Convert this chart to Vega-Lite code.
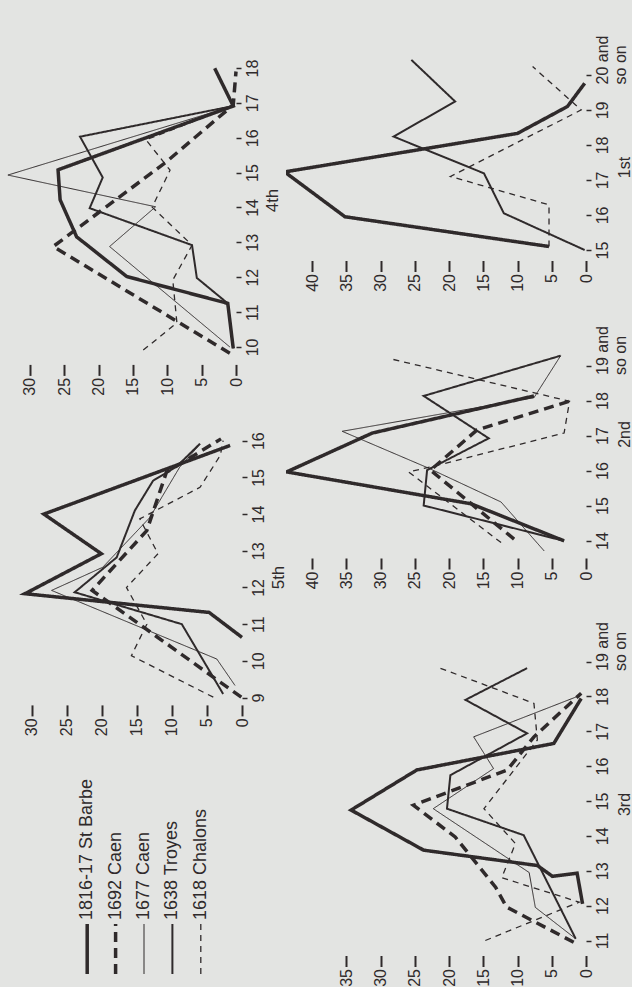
{
  "$schema": "https://vega.github.io/schema/vega-lite/v6.json",
  "background": "#e3e4e2",
  "padding": 0,
  "spacing": 0,
  "datasets": {
    "series": [
      {"series": "1816-17 St Barbe"},
      {"series": "1692 Caen"},
      {"series": "1677 Caen"},
      {"series": "1638 Troyes"},
      {"series": "1618 Chalons"}
    ],
    "lines": [
      {"panel": "4th", "series": "1816-17 St Barbe", "age": 9.96, "value": 0.4},
      {"panel": "4th", "series": "1816-17 St Barbe", "age": 11.25, "value": 1.2},
      {"panel": "4th", "series": "1816-17 St Barbe", "age": 12.02, "value": 15.9},
      {"panel": "4th", "series": "1816-17 St Barbe", "age": 13.16, "value": 23.2},
      {"panel": "4th", "series": "1816-17 St Barbe", "age": 14.22, "value": 25.6},
      {"panel": "4th", "series": "1816-17 St Barbe", "age": 15.08, "value": 25.9},
      {"panel": "4th", "series": "1816-17 St Barbe", "age": 16.91, "value": 0.4},
      {"panel": "4th", "series": "1816-17 St Barbe", "age": 17.99, "value": 3.1},
      {"panel": "4th", "series": "1692 Caen", "age": 9.82, "value": 0.9},
      {"panel": "4th", "series": "1692 Caen", "age": 12.88, "value": 26.6},
      {"panel": "4th", "series": "1692 Caen", "age": 15.3, "value": 10.2},
      {"panel": "4th", "series": "1692 Caen", "age": 16.94, "value": 0.4},
      {"panel": "4th", "series": "1692 Caen", "age": 17.9, "value": 0},
      {"panel": "4th", "series": "1677 Caen", "age": 10.0, "value": 0.9},
      {"panel": "4th", "series": "1677 Caen", "age": 12.88, "value": 18.4},
      {"panel": "4th", "series": "1677 Caen", "age": 14.02, "value": 11.7},
      {"panel": "4th", "series": "1677 Caen", "age": 14.93, "value": 33.2},
      {"panel": "4th", "series": "1677 Caen", "age": 16.91, "value": 0.4},
      {"panel": "4th", "series": "1638 Troyes", "age": 9.96, "value": 0.4},
      {"panel": "4th", "series": "1638 Troyes", "age": 11.25, "value": 1.2},
      {"panel": "4th", "series": "1638 Troyes", "age": 11.98, "value": 5.7},
      {"panel": "4th", "series": "1638 Troyes", "age": 12.92, "value": 6.4},
      {"panel": "4th", "series": "1638 Troyes", "age": 13.98, "value": 21.3},
      {"panel": "4th", "series": "1638 Troyes", "age": 14.86, "value": 19.4},
      {"panel": "4th", "series": "1638 Troyes", "age": 16.03, "value": 22.7},
      {"panel": "4th", "series": "1638 Troyes", "age": 16.91, "value": 0.4},
      {"panel": "4th", "series": "1618 Chalons", "age": 9.91, "value": 13.5},
      {"panel": "4th", "series": "1618 Chalons", "age": 10.69, "value": 8.6},
      {"panel": "4th", "series": "1618 Chalons", "age": 11.92, "value": 9.2},
      {"panel": "4th", "series": "1618 Chalons", "age": 12.92, "value": 6.4},
      {"panel": "4th", "series": "1618 Chalons", "age": 14.01, "value": 12.2},
      {"panel": "4th", "series": "1618 Chalons", "age": 15.07, "value": 9.6},
      {"panel": "4th", "series": "1618 Chalons", "age": 15.94, "value": 13.1},
      {"panel": "4th", "series": "1618 Chalons", "age": 16.91, "value": 0.4},

      {"panel": "5th", "series": "1816-17 St Barbe", "age": 10.64, "value": 0},
      {"panel": "5th", "series": "1816-17 St Barbe", "age": 11.32, "value": 4.7},
      {"panel": "5th", "series": "1816-17 St Barbe", "age": 11.83, "value": 31.0},
      {"panel": "5th", "series": "1816-17 St Barbe", "age": 12.92, "value": 20.1},
      {"panel": "5th", "series": "1816-17 St Barbe", "age": 14.0, "value": 28.3},
      {"panel": "5th", "series": "1816-17 St Barbe", "age": 15.87, "value": 1.7},
      {"panel": "5th", "series": "1692 Caen", "age": 9.01, "value": 0.1},
      {"panel": "5th", "series": "1692 Caen", "age": 11.92, "value": 21.4},
      {"panel": "5th", "series": "1692 Caen", "age": 13.55, "value": 13.6},
      {"panel": "5th", "series": "1692 Caen", "age": 15.14, "value": 10.8},
      {"panel": "5th", "series": "1692 Caen", "age": 16.05, "value": 3.0},
      {"panel": "5th", "series": "1677 Caen", "age": 9.33, "value": 1.0},
      {"panel": "5th", "series": "1677 Caen", "age": 10.05, "value": 3.6},
      {"panel": "5th", "series": "1677 Caen", "age": 11.92, "value": 27.2},
      {"panel": "5th", "series": "1677 Caen", "age": 12.55, "value": 19.9},
      {"panel": "5th", "series": "1677 Caen", "age": 13.9, "value": 13.2},
      {"panel": "5th", "series": "1677 Caen", "age": 15.28, "value": 8.9},
      {"panel": "5th", "series": "1677 Caen", "age": 15.9, "value": 6.0},
      {"panel": "5th", "series": "1638 Troyes", "age": 9.1, "value": 2.7},
      {"panel": "5th", "series": "1638 Troyes", "age": 11.0, "value": 8.6},
      {"panel": "5th", "series": "1638 Troyes", "age": 11.87, "value": 23.9},
      {"panel": "5th", "series": "1638 Troyes", "age": 12.82, "value": 17.9},
      {"panel": "5th", "series": "1638 Troyes", "age": 14.1, "value": 15.3},
      {"panel": "5th", "series": "1638 Troyes", "age": 14.91, "value": 12.7},
      {"panel": "5th", "series": "1638 Troyes", "age": 15.3, "value": 9.3},
      {"panel": "5th", "series": "1638 Troyes", "age": 15.92, "value": 6.0},
      {"panel": "5th", "series": "1618 Chalons", "age": 9.01, "value": 4.1},
      {"panel": "5th", "series": "1618 Chalons", "age": 10.14, "value": 15.8},
      {"panel": "5th", "series": "1618 Chalons", "age": 11.0, "value": 13.6},
      {"panel": "5th", "series": "1618 Chalons", "age": 12.0, "value": 16.5},
      {"panel": "5th", "series": "1618 Chalons", "age": 12.92, "value": 12.0},
      {"panel": "5th", "series": "1618 Chalons", "age": 13.87, "value": 14.6},
      {"panel": "5th", "series": "1618 Chalons", "age": 14.73, "value": 6.0},
      {"panel": "5th", "series": "1618 Chalons", "age": 15.6, "value": 3.1},
      {"panel": "5th", "series": "1618 Chalons", "age": 16.0, "value": 2.7},

      {"panel": "1st", "series": "1816-17 St Barbe", "age": 15.1, "value": 5.4},
      {"panel": "1st", "series": "1816-17 St Barbe", "age": 15.95, "value": 35.2},
      {"panel": "1st", "series": "1816-17 St Barbe", "age": 17.23, "value": 44.0},
      {"panel": "1st", "series": "1816-17 St Barbe", "age": 18.33, "value": 10.0},
      {"panel": "1st", "series": "1816-17 St Barbe", "age": 19.1, "value": 2.7},
      {"panel": "1st", "series": "1816-17 St Barbe", "age": 19.76, "value": 0.2},
      {"panel": "1st", "series": "1638 Troyes", "age": 15.0, "value": 0.2},
      {"panel": "1st", "series": "1638 Troyes", "age": 16.05, "value": 12.0},
      {"panel": "1st", "series": "1638 Troyes", "age": 17.19, "value": 14.9},
      {"panel": "1st", "series": "1638 Troyes", "age": 18.24, "value": 28.1},
      {"panel": "1st", "series": "1638 Troyes", "age": 19.24, "value": 19.1},
      {"panel": "1st", "series": "1638 Troyes", "age": 20.43, "value": 25.5},
      {"panel": "1st", "series": "1618 Chalons", "age": 15.1, "value": 5.4},
      {"panel": "1st", "series": "1618 Chalons", "age": 16.29, "value": 5.4},
      {"panel": "1st", "series": "1618 Chalons", "age": 17.1, "value": 19.8},
      {"panel": "1st", "series": "1618 Chalons", "age": 19.0, "value": 0.7},
      {"panel": "1st", "series": "1618 Chalons", "age": 20.24, "value": 7.8},

      {"panel": "2nd", "series": "1816-17 St Barbe", "age": 13.99, "value": 3.2},
      {"panel": "2nd", "series": "1816-17 St Barbe", "age": 15.05, "value": 16.8},
      {"panel": "2nd", "series": "1816-17 St Barbe", "age": 15.96, "value": 43.7},
      {"panel": "2nd", "series": "1816-17 St Barbe", "age": 17.07, "value": 31.2},
      {"panel": "2nd", "series": "1816-17 St Barbe", "age": 18.13, "value": 7.6},
      {"panel": "2nd", "series": "1677 Caen", "age": 13.7, "value": 6.1},
      {"panel": "2nd", "series": "1677 Caen", "age": 15.1, "value": 12.4},
      {"panel": "2nd", "series": "1677 Caen", "age": 16.06, "value": 22.9},
      {"panel": "2nd", "series": "1677 Caen", "age": 17.12, "value": 35.6},
      {"panel": "2nd", "series": "1677 Caen", "age": 18.08, "value": 7.6},
      {"panel": "2nd", "series": "1677 Caen", "age": 19.28, "value": 3.7},
      {"panel": "2nd", "series": "1638 Troyes", "age": 13.99, "value": 3.2},
      {"panel": "2nd", "series": "1638 Troyes", "age": 15.0, "value": 23.7},
      {"panel": "2nd", "series": "1638 Troyes", "age": 16.01, "value": 23.2},
      {"panel": "2nd", "series": "1638 Troyes", "age": 16.92, "value": 14.2},
      {"panel": "2nd", "series": "1638 Troyes", "age": 18.13, "value": 23.7},
      {"panel": "2nd", "series": "1638 Troyes", "age": 19.28, "value": 3.7},
      {"panel": "2nd", "series": "1692 Caen", "age": 14.04, "value": 10.5},
      {"panel": "2nd", "series": "1692 Caen", "age": 16.01, "value": 22.7},
      {"panel": "2nd", "series": "1692 Caen", "age": 17.16, "value": 15.9},
      {"panel": "2nd", "series": "1692 Caen", "age": 17.98, "value": 2.4},
      {"panel": "2nd", "series": "1618 Chalons", "age": 13.94, "value": 12.4},
      {"panel": "2nd", "series": "1618 Chalons", "age": 15.96, "value": 25.9},
      {"panel": "2nd", "series": "1618 Chalons", "age": 16.15, "value": 21.7},
      {"panel": "2nd", "series": "1618 Chalons", "age": 17.07, "value": 3.2},
      {"panel": "2nd", "series": "1618 Chalons", "age": 17.98, "value": 2.4},
      {"panel": "2nd", "series": "1618 Chalons", "age": 19.18, "value": 28.3},

      {"panel": "3rd", "series": "1816-17 St Barbe", "age": 12.05, "value": 0.5},
      {"panel": "3rd", "series": "1816-17 St Barbe", "age": 12.93, "value": 1.3},
      {"panel": "3rd", "series": "1816-17 St Barbe", "age": 12.84, "value": 4.9},
      {"panel": "3rd", "series": "1816-17 St Barbe", "age": 13.15, "value": 7.1},
      {"panel": "3rd", "series": "1816-17 St Barbe", "age": 13.59, "value": 23.7},
      {"panel": "3rd", "series": "1816-17 St Barbe", "age": 14.74, "value": 34.3},
      {"panel": "3rd", "series": "1816-17 St Barbe", "age": 15.89, "value": 24.7},
      {"panel": "3rd", "series": "1816-17 St Barbe", "age": 16.65, "value": 4.7},
      {"panel": "3rd", "series": "1816-17 St Barbe", "age": 17.94, "value": 0.7},
      {"panel": "3rd", "series": "1638 Troyes", "age": 11.05, "value": 1.5},
      {"panel": "3rd", "series": "1638 Troyes", "age": 14.02, "value": 9.1},
      {"panel": "3rd", "series": "1638 Troyes", "age": 14.78, "value": 20.3},
      {"panel": "3rd", "series": "1638 Troyes", "age": 15.74, "value": 19.8},
      {"panel": "3rd", "series": "1638 Troyes", "age": 16.94, "value": 8.6},
      {"panel": "3rd", "series": "1638 Troyes", "age": 17.9, "value": 17.6},
      {"panel": "3rd", "series": "1638 Troyes", "age": 18.81, "value": 8.6},
      {"panel": "3rd", "series": "1677 Caen", "age": 11.05, "value": 1.5},
      {"panel": "3rd", "series": "1677 Caen", "age": 11.95, "value": 7.4},
      {"panel": "3rd", "series": "1677 Caen", "age": 12.95, "value": 8.3},
      {"panel": "3rd", "series": "1677 Caen", "age": 14.78, "value": 22.3},
      {"panel": "3rd", "series": "1677 Caen", "age": 15.93, "value": 13.5},
      {"panel": "3rd", "series": "1677 Caen", "age": 16.84, "value": 16.4},
      {"panel": "3rd", "series": "1677 Caen", "age": 18.04, "value": 0.7},
      {"panel": "3rd", "series": "1692 Caen", "age": 10.95, "value": 1.8},
      {"panel": "3rd", "series": "1692 Caen", "age": 11.96, "value": 11.6},
      {"panel": "3rd", "series": "1692 Caen", "age": 12.53, "value": 13.2},
      {"panel": "3rd", "series": "1692 Caen", "age": 13.97, "value": 19.1},
      {"panel": "3rd", "series": "1692 Caen", "age": 14.88, "value": 25.2},
      {"panel": "3rd", "series": "1692 Caen", "age": 15.89, "value": 11.5},
      {"panel": "3rd", "series": "1692 Caen", "age": 16.84, "value": 7.6},
      {"panel": "3rd", "series": "1692 Caen", "age": 18.09, "value": 0.7},
      {"panel": "3rd", "series": "1618 Chalons", "age": 11.0, "value": 14.7},
      {"panel": "3rd", "series": "1618 Chalons", "age": 12.1, "value": 1.0},
      {"panel": "3rd", "series": "1618 Chalons", "age": 12.8, "value": 12.3},
      {"panel": "3rd", "series": "1618 Chalons", "age": 13.78, "value": 10.3},
      {"panel": "3rd", "series": "1618 Chalons", "age": 14.78, "value": 14.9},
      {"panel": "3rd", "series": "1618 Chalons", "age": 16.75, "value": 7.1},
      {"panel": "3rd", "series": "1618 Chalons", "age": 17.8, "value": 7.6},
      {"panel": "3rd", "series": "1618 Chalons", "age": 18.81, "value": 21.3}
    ]
  },
  "hconcat": [
    {
      "bounds": "flush",
      "spacing": 40,
      "vconcat": [
        {
          "width": 236,
          "height": 364.4,
          "data": {"name": "lines"},
          "transform": [{"filter": {"field": "panel", "equal": "4th"}}],
          "mark": {"type": "line", "color": "#2f2a2b"},
          "encoding": {
            "x": {"field": "value", "type": "quantitative", "scale": {"domain": [0, 34.35], "reverse": true, "nice": false, "zero": false}, "axis": {"values": [0, 5, 10, 15, 20, 25, 30], "title": null}},
            "y": {"field": "age", "type": "quantitative", "scale": {"domain": [9.5, 19.95], "nice": false, "zero": false}, "axis": {"orient": "right", "values": [10, 11, 12, 13, 14, 15, 16, 17, 18], "title": "4th", "titleY": 200}},
            "detail": {"field": "series", "type": "nominal"},
            "order": {"value": null},
            "strokeWidth": {"field": "series", "type": "nominal", "scale": {"type": "ordinal", "domain": ["1816-17 St Barbe", "1692 Caen", "1677 Caen", "1638 Troyes", "1618 Chalons"], "range": [3.5, 3.5, 1, 2, 1.3]}, "legend": null},
            "strokeDash": {"field": "series", "type": "nominal", "scale": {"domain": ["1816-17 St Barbe", "1692 Caen", "1677 Caen", "1638 Troyes", "1618 Chalons"], "range": [[1, 0], [10, 6], [1, 0], [1, 0], [6, 5]]}, "legend": null}
          }
        },
        {
          "width": 242,
          "height": 299.9,
          "data": {"name": "lines"},
          "transform": [{"filter": {"field": "panel", "equal": "5th"}}],
          "mark": {"type": "line", "color": "#2f2a2b"},
          "encoding": {
            "x": {"field": "value", "type": "quantitative", "scale": {"domain": [0, 34.57], "reverse": true, "nice": false, "zero": false}, "axis": {"values": [0, 5, 10, 15, 20, 25, 30], "title": null}},
            "y": {"field": "age", "type": "quantitative", "scale": {"domain": [8.8, 16.973], "nice": false, "zero": false}, "axis": {"orient": "right", "values": [9, 10, 11, 12, 13, 14, 15, 16], "title": "5th", "titleY": 172}},
            "detail": {"field": "series", "type": "nominal"},
            "order": {"value": null},
            "strokeWidth": {"field": "series", "type": "nominal", "scale": {"type": "ordinal", "domain": ["1816-17 St Barbe", "1692 Caen", "1677 Caen", "1638 Troyes", "1618 Chalons"], "range": [3.5, 3.5, 1, 2, 1.3]}, "legend": null},
            "strokeDash": {"field": "series", "type": "nominal", "scale": {"domain": ["1816-17 St Barbe", "1692 Caen", "1677 Caen", "1638 Troyes", "1618 Chalons"], "range": [[1, 0], [10, 6], [1, 0], [1, 0], [6, 5]]}, "legend": null}
          }
        },
        {
          "width": 240,
          "height": 236,
          "data": {"name": "series"},
          "encoding": {
            "x": {"field": "series", "type": "nominal", "sort": null, "scale": {"type": "point", "domain": ["1816-17 St Barbe", "1692 Caen", "1677 Caen", "1638 Troyes", "1618 Chalons"], "range": [73, 215]}, "axis": null}
          },
          "layer": [
            {
              "mark": {"type": "rule", "color": "#2f2a2b"},
              "encoding": {
                "y": {"datum": 7, "type": "quantitative", "scale": {"domain": [0, 236], "nice": false, "zero": false}, "axis": null},
                "y2": {"datum": 57},
                "strokeWidth": {"field": "series", "type": "nominal", "scale": {"type": "ordinal", "domain": ["1816-17 St Barbe", "1692 Caen", "1677 Caen", "1638 Troyes", "1618 Chalons"], "range": [3.5, 3.5, 1, 2, 1.3]}, "legend": null},
                "strokeDash": {"field": "series", "type": "nominal", "scale": {"domain": ["1816-17 St Barbe", "1692 Caen", "1677 Caen", "1638 Troyes", "1618 Chalons"], "range": [[1, 0], [10, 6], [1, 0], [1, 0], [6, 5]]}, "legend": null}
              }
            },
            {
              "mark": {"type": "text", "angle": 270, "align": "left", "baseline": "middle", "fontSize": 18, "font": "Liberation Sans", "color": "#2f2a2b"},
              "encoding": {
                "y": {"datum": 61, "type": "quantitative"},
                "text": {"field": "series"}
              }
            }
          ]
        }
      ]
    },
    {
      "bounds": "flush",
      "spacing": 40,
      "vconcat": [
        {
          "width": 300,
          "height": 260.5,
          "data": {"name": "lines"},
          "transform": [{"filter": {"field": "panel", "equal": "1st"}}],
          "mark": {"type": "line", "color": "#2f2a2b", "clip": true},
          "encoding": {
            "x": {"field": "value", "type": "quantitative", "scale": {"domain": [0, 43.8], "reverse": true, "nice": false, "zero": false}, "axis": {"values": [0, 5, 10, 15, 20, 25, 30, 35, 40], "title": null}},
            "y": {"field": "age", "type": "quantitative", "scale": {"domain": [14.7, 22.14], "nice": false, "zero": false}, "axis": {"orient": "right", "values": [15, 16, 17, 18, 19, 20], "title": "1st", "titleY": 167, "titleX": 30, "titleFontSize": 16, "labelExpr": "datum.value == 20 ? ['20 and', '\u00a0\u00a0\u00a0\u00a0\u00a0\u00a0so on'] : datum.label", "labelAlign": {"condition": {"test": "datum.value == 20", "value": "left"}, "value": "center"}, "labelOffset": {"condition": {"test": "datum.value == 20", "value": 9}, "value": 0}}},
            "detail": {"field": "series", "type": "nominal"},
            "order": {"value": null},
            "strokeWidth": {"field": "series", "type": "nominal", "scale": {"type": "ordinal", "domain": ["1816-17 St Barbe", "1692 Caen", "1677 Caen", "1638 Troyes", "1618 Chalons"], "range": [3.5, 3.5, 1, 2, 1.3]}, "legend": null},
            "strokeDash": {"field": "series", "type": "nominal", "scale": {"domain": ["1816-17 St Barbe", "1692 Caen", "1677 Caen", "1638 Troyes", "1618 Chalons"], "range": [[1, 0], [10, 6], [1, 0], [1, 0], [6, 5]]}, "legend": null}
          }
        },
        {
          "width": 300,
          "height": 257,
          "data": {"name": "lines"},
          "transform": [{"filter": {"field": "panel", "equal": "2nd"}}],
          "mark": {"type": "line", "color": "#2f2a2b", "clip": true},
          "encoding": {
            "x": {"field": "value", "type": "quantitative", "scale": {"domain": [0, 43.8], "reverse": true, "nice": false, "zero": false}, "axis": {"values": [0, 5, 10, 15, 20, 25, 30, 35, 40], "title": null}},
            "y": {"field": "age", "type": "quantitative", "scale": {"domain": [13.5, 20.843], "nice": false, "zero": false}, "axis": {"orient": "right", "values": [14, 15, 16, 17, 18, 19], "title": "2nd", "titleY": 133, "titleX": 30, "titleFontSize": 16, "labelExpr": "datum.value == 19 ? ['19 and', '\u00a0\u00a0\u00a0\u00a0\u00a0\u00a0so on'] : datum.label", "labelAlign": {"condition": {"test": "datum.value == 19", "value": "left"}, "value": "center"}, "labelOffset": {"condition": {"test": "datum.value == 19", "value": 9}, "value": 0}}},
            "detail": {"field": "series", "type": "nominal"},
            "order": {"value": null},
            "strokeWidth": {"field": "series", "type": "nominal", "scale": {"type": "ordinal", "domain": ["1816-17 St Barbe", "1692 Caen", "1677 Caen", "1638 Troyes", "1618 Chalons"], "range": [3.5, 3.5, 1, 2, 1.3]}, "legend": null},
            "strokeDash": {"field": "series", "type": "nominal", "scale": {"domain": ["1816-17 St Barbe", "1692 Caen", "1677 Caen", "1638 Troyes", "1618 Chalons"], "range": [[1, 0], [10, 6], [1, 0], [1, 0], [6, 5]]}, "legend": null}
          }
        },
        {
          "width": 300,
          "height": 357.5,
          "data": {"name": "lines"},
          "transform": [{"filter": {"field": "panel", "equal": "3rd"}}],
          "mark": {"type": "line", "color": "#2f2a2b", "clip": true},
          "encoding": {
            "x": {"field": "value", "type": "quantitative", "scale": {"domain": [0, 43.8], "reverse": true, "nice": false, "zero": false}, "axis": {"values": [0, 5, 10, 15, 20, 25, 30, 35], "title": null}},
            "y": {"field": "age", "type": "quantitative", "scale": {"domain": [10.57, 20.821], "nice": false, "zero": false}, "axis": {"orient": "right", "values": [11, 12, 13, 14, 15, 16, 17, 18, 19], "title": "3rd", "titleY": 206, "titleX": 30, "titleFontSize": 16, "labelExpr": "datum.value == 19 ? ['19 and', '\u00a0\u00a0\u00a0\u00a0\u00a0\u00a0so on'] : datum.label", "labelAlign": {"condition": {"test": "datum.value == 19", "value": "left"}, "value": "center"}, "labelOffset": {"condition": {"test": "datum.value == 19", "value": 9}, "value": 0}}},
            "detail": {"field": "series", "type": "nominal"},
            "order": {"value": null},
            "strokeWidth": {"field": "series", "type": "nominal", "scale": {"type": "ordinal", "domain": ["1816-17 St Barbe", "1692 Caen", "1677 Caen", "1638 Troyes", "1618 Chalons"], "range": [3.5, 3.5, 1, 2, 1.3]}, "legend": null},
            "strokeDash": {"field": "series", "type": "nominal", "scale": {"domain": ["1816-17 St Barbe", "1692 Caen", "1677 Caen", "1638 Troyes", "1618 Chalons"], "range": [[1, 0], [10, 6], [1, 0], [1, 0], [6, 5]]}, "legend": null}
          }
        }
      ]
    }
  ],
  "config": {
    "view": {"stroke": null},
    "font": "Liberation Sans",
    "axis": {
      "domain": false,
      "grid": false,
      "labelFont": "Liberation Sans",
      "labelFontSize": 16,
      "labelColor": "#2f2a2b",
      "tickColor": "#2f2a2b",
      "labelOverlap": false,
      "labelFlush": false,
      "titleFont": "Liberation Sans",
      "titleFontSize": 17,
      "titleFontWeight": "normal",
      "titleColor": "#2f2a2b"
    },
    "axisX": {"labelAngle": -90, "labelAlign": "right", "labelBaseline": "middle", "tickSize": 11, "tickWidth": 2, "labelPadding": 2},
    "axisY": {"labelAngle": -90, "labelAlign": "center", "labelBaseline": "top", "tickSize": 5, "tickWidth": 1.5, "labelPadding": 3, "titleAngle": -90, "titleBaseline": "top", "titleAlign": "center", "titlePadding": 4}
  }
}
